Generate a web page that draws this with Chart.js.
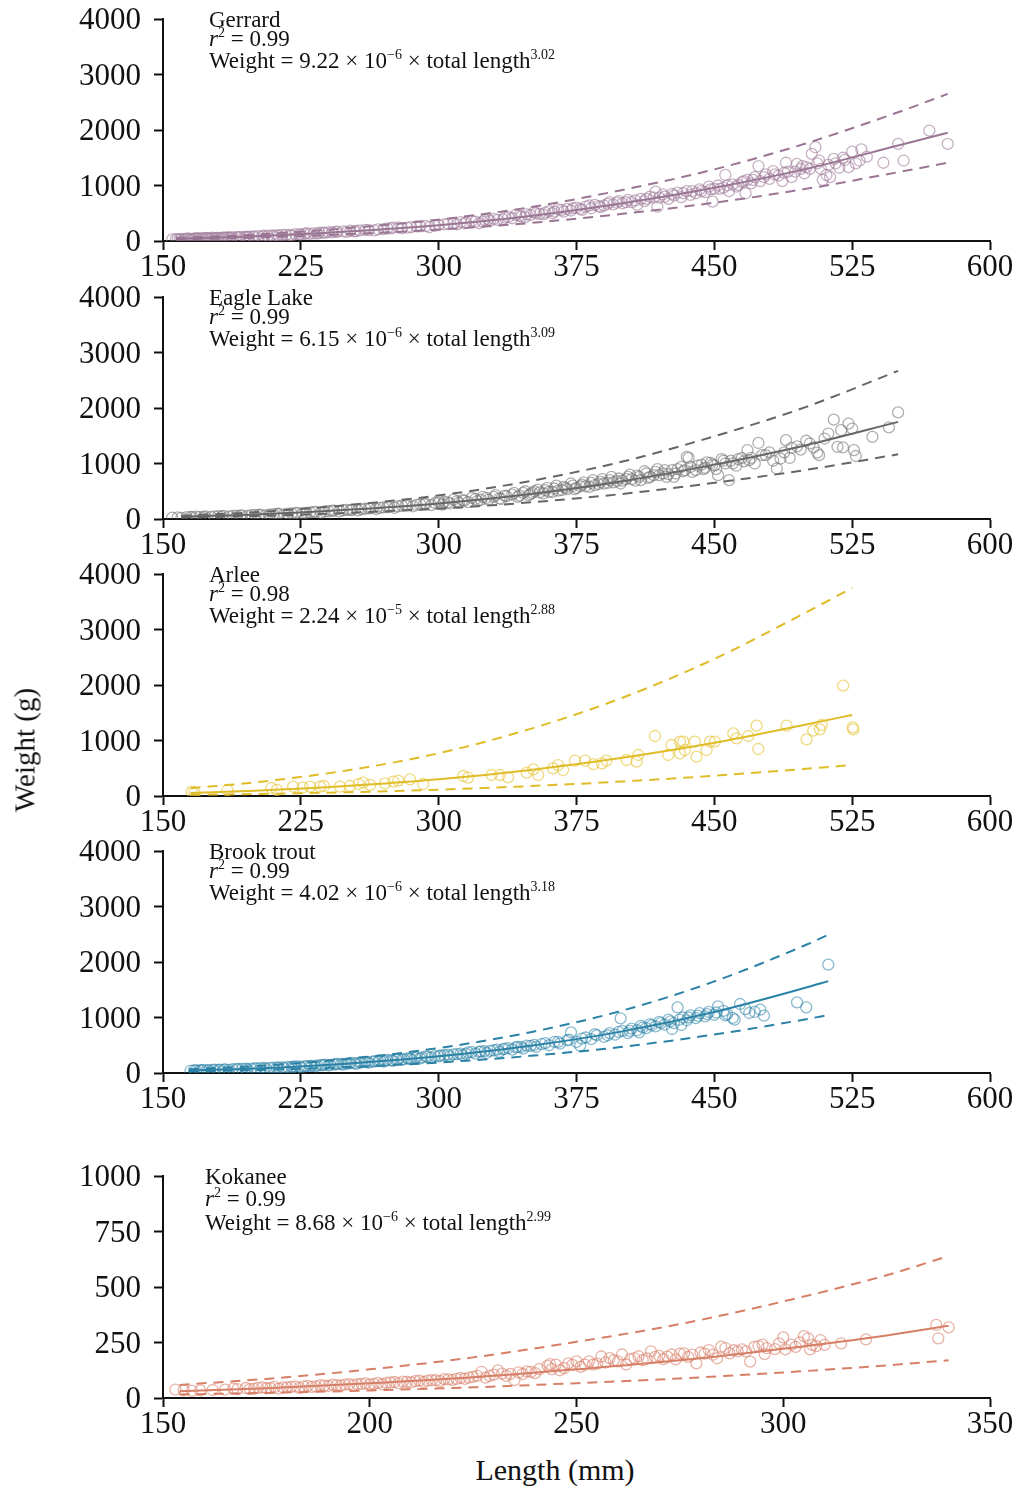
<!DOCTYPE html>
<html>
<head>
<meta charset="utf-8">
<script src="https://cdn.jsdelivr.net/npm/chart.js@4.4.0/dist/chart.umd.min.js"></script>
<style>
  body { margin: 0; background: #fff; width: 1017px; height: 1488px; position: relative; overflow: hidden;
         font-family: 'Liberation Serif', 'Times New Roman', serif; }
  canvas { position: absolute; left: 0; }
  .note { position: absolute; font-size: 23px; line-height: 19px; color: #111; white-space: nowrap; }
  .note.loose { line-height: 21.5px; }
  .note sup { font-size: 14px; vertical-align: 0; position: relative; top: -9px; }
  .axis-title { position: absolute; font-size: 29px; color: #111; white-space: nowrap; }
</style>
</head>
<body>

<script>
// lengths (mm) and weights (g)

// Gerrard
const gerrardPts = [[155,30],[157,35],[159,25],[160,40],[162,38],[164,45],[165,30],[167,42],[168,50],[170,45],[172,48],[173,55],[175,52],[177,60],[178,50],[180,58],[182,62],[184,55],[185,68],[187,65],[190,70],[192,75],[195,72],[197,80],[200,85],[205,95],[210,90],[212,105],[215,110],[220,100],[222,125],[225,120],[228,140],[230,130],[235,150],[238,145],[240,160],[245,170],[250,165],[252,185],[255,180],[260,200],[265,190],[270,215],[272,225],[275,240],[280,230],[285,250],[290,265],[295,250],[300,290],[305,310],[310,300],[312,340],[315,335],[320,350],[322,320],[325,380],[328,360],[330,400],[335,390],[338,430],[340,410],[342,470],[345,440],[348,480],[350,470],[352,520],[355,490],[358,510],[360,540],[362,500],[365,570],[368,530],[370,580],[372,550],[375,600],[378,560],[380,620],[383,590],[385,650],[388,610],[390,640],[393,700],[395,660],[398,720],[400,680],[403,740],[405,700],[408,650],[410,760],[412,720],[415,800],[418,890],[419,620],[420,780],[422,840],[425,760],[428,820],[430,870],[432,790],[435,900],[437,830],[440,860],[442,930],[445,880],[447,980],[449,710],[450,940],[452,1000],[455,960],[456,1190],[458,900],[460,1020],[462,980],[465,1060],[467,860],[468,1100],[470,1040],[472,1150],[474,1350],[475,1080],[478,1200],[480,1120],[482,1260],[485,1180],[487,1080],[489,1410],[490,1250],[492,1150],[495,1390],[497,1300],[499,1220],[500,1330],[503,1570],[505,1690],[506,1400],[508,1300],[509,1100],[511,1190],[513,1150],[515,1480],[518,1320],[520,1500],[523,1330],[525,1610],[527,1400],[530,1650],[533,1520],[542,1410],[550,1750],[553,1450],[567,1990],[577,1750],
  [158,32],[161,30],[163,42],[166,38],[169,48],[171,44],[174,50],[176,46],[179,55],[181,52],[183,60],[186,58],[188,66],[191,64],[194,70],[196,76],[199,80],[202,88],[204,84],[207,92],[209,100],[213,98],[217,112],[219,108],[224,118],[227,130],[232,138],[234,132],[237,150],[242,156],[244,165],[248,172],[254,175],[257,192],[262,195],[267,210],[274,228],[278,245],[283,240],[288,262],[293,270],[298,275],[303,300],[308,320],[314,320],[318,360],[324,350],[327,390],[332,380],[336,420],[344,455],[347,430],[353,500],[357,480],[363,530],[367,560],[373,590],[377,580],[382,640],[387,630],[392,670],[397,690],[402,700],[407,730],[413,760],[417,780],[423,800],[427,850],[433,860],[438,900],[443,900],[448,930],[453,940],[457,1000],[463,1010],[466,1080],[471,1100],[477,1150],[483,1200],[488,1230],[494,1250],[498,1350],[502,1300],[507,1450],[512,1370],[516,1400],[521,1460],[529,1450]];
const gerrardCurveLen = [157, 200, 250, 300, 350, 400, 450, 500, 550, 577];
const gerrardFit   = [40, 85, 170, 285, 450, 680, 960, 1300, 1720, 1950];
const gerrardUpper = [55, 115, 230, 385, 610, 920, 1290, 1760, 2320, 2650];
const gerrardLower = [29, 61, 122, 205, 325, 490, 690, 940, 1240, 1410];

// Eagle Lake
const eaglePts = [[155,25],[158,30],[160,22],[163,35],[166,32],[170,40],[173,45],[176,38],[180,50],[183,55],[186,48],[190,60],[193,65],[196,58],[200,75],[203,80],[206,70],[210,88],[213,95],[216,85],[220,100],[223,110],[226,105],[230,120],[233,130],[236,115],[240,140],[243,150],[246,135],[250,165],[253,170],[256,155],[260,185],[263,195],[266,180],[270,210],[273,220],[276,200],[280,240],[283,250],[286,230],[290,265],[293,275],[296,250],[300,290],[303,310],[306,280],[310,320],[313,340],[316,305],[320,360],[323,345],[326,380],[330,400],[333,370],[336,420],[340,440],[343,400],[346,470],[350,450],[352,500],[355,480],[358,520],[360,490],[363,550],[365,510],[368,580],[370,540],[373,600],[375,560],[378,620],[380,590],[383,650],[385,610],[388,670],[390,640],[393,700],[395,660],[398,730],[400,690],[403,760],[405,720],[408,780],[410,700],[413,820],[415,760],[418,850],[420,790],[423,880],[425,810],[428,760],[430,900],[433,860],[435,1120],[437,940],[440,880],[443,980],[445,920],[448,1010],[450,960],[452,790],[455,1050],[458,700],[460,1000],[463,1080],[466,1040],[468,1240],[470,1100],[474,1370],[476,1150],[480,1200],[484,910],[486,1090],[489,1420],[492,1280],[495,1310],[500,1410],[502,1360],[504,1290],[506,1195],[507,1150],[510,1450],[512,1540],[515,1790],[517,1300],[519,1600],[520,1290],[523,1720],[525,1630],[526,1240],[527,1135],[536,1480],[545,1650],[550,1920],
  [165,38],[168,42],[172,35],[178,48],[182,45],[188,55],[192,62],[198,70],[202,72],[208,80],[212,90],[218,95],[222,105],[228,112],[232,125],[238,135],[242,145],[248,155],[252,160],[258,175],[262,190],[268,200],[272,215],[278,230],[282,245],[288,255],[292,270],[298,285],
  [300,330],[302,260],[305,300],[308,350],[311,290],[314,330],[318,380],[321,320],[324,400],[327,350],[331,430],[334,360],[337,410],[341,470],[344,420],[347,500],[349,430],[351,470],[354,530],[357,460],[359,560],[362,490],[364,600],[367,520],[369,560],[372,640],[374,540],[377,590],[379,660],[382,580],[384,700],[387,630],[389,720],[392,650],[394,760],[397,680],[399,640],[402,720],[404,800],[407,690],[409,760],[412,860],[414,740],[417,790],[419,900],[422,820],[424,760],[427,880],[429,820],[432,940],[434,880],[436,1100],[438,850],[441,960],[444,900],[446,1020],[449,980],[451,900],[454,1080],[456,1000],[459,1050],[462,960],[465,1100],[469,1060],[472,1000],[478,1150],[482,1050],[488,1200],[491,1100],[497,1250]];
const eagleCurveLen = [160, 200, 250, 300, 350, 400, 450, 500, 550];
const eagleFit   = [40, 80, 165, 280, 450, 680, 980, 1330, 1750];
const eagleUpper = [60, 122, 250, 425, 685, 1035, 1490, 2020, 2670];
const eagleLower = [27, 53, 110, 186, 300, 452, 652, 885, 1165];

// Arlee
const arleePts = [[165.6,78],[167,70],[185,108],[209,144],[212,110],[220.8,168],[226,150],[230,170],[235.5,168],[237.6,180],[246.3,168],[251.8,180],[256.4,216],[259,240],[262.7,200],[270.8,228],[275.4,258],[278,276],[284.4,300],[291.6,216],[313.4,360],[316,330],[328.8,378],[333.3,378],[337.8,336],[347.9,420],[351.5,480],[354.2,378],[362.2,498],[365,558],[367.7,468],[374.2,636],[379.7,636],[384.2,576],[388.8,588],[391.3,637],[402.3,649],[407.7,619],[408.6,739],[417.7,1081],[424.9,739],[426.7,919],[431.3,979],[431.3,769],[433.1,979],[434,829],[439.4,979],[440.3,709],[445.8,829],[447.6,979],[450.3,979],[460.3,1129],[462.1,1039],[468.5,1081],[473,1267],[473.9,847],[489.3,1267],[500.2,1021],[503.8,1177],[507.4,1201],[508.4,1279],[520.1,1988],[525.3,1237],[525.6,1200]];
const arleeCurveLen = [165, 200, 250, 300, 350, 400, 450, 500, 525];
const arleeFit   = [55, 95, 180, 300, 470, 690, 960, 1290, 1460];
const arleeUpper = [140, 245, 460, 770, 1210, 1770, 2470, 3310, 3750];
const arleeLower = [21, 36, 68, 114, 179, 262, 365, 490, 558];

// Brook trout
const brookPts = [[165,40],[167,50],[170,45],[172,55],[175,48],[178,60],[180,55],[183,62],[186,58],[190,70],[193,75],[196,68],[200,82],[203,88],[206,80],[210,95],[213,100],[216,92],[220,110],[222,118],[225,105],[228,125],[230,130],[233,120],[236,140],[238,150],[240,135],[243,155],[245,165],[248,150],[250,170],[252,180],[255,165],[258,190],[260,200],[262,185],[265,210],[268,225],[270,205],[272,235],[275,220],[278,250],[280,240],[283,265],[285,250],[288,280],[290,265],[293,300],[296,280],[300,300],[303,320],[306,300],[310,340],[313,320],[316,370],[320,350],[323,390],[326,360],[330,410],[333,380],[336,440],[340,420],[343,470],[346,440],[350,490],[353,470],[356,520],[360,500],[363,560],[366,530],[370,590],[372,733],[375,560],[377,492],[380,640],[383,610],[386,680],[390,650],[393,720],[396,690],[399,985],[400,760],[403,720],[405,800],[408,770],[409,733],[410,850],[413,810],[415,880],[418,840],[420,920],[423,870],[425,960],[427,793],[428,900],[430,1183],[432,865],[433,1000],[435,950],[437,1040],[440,990],[442,1080],[445,1020],[447,1100],[450,1050],[452,1200],[455,1120],[457,1060],[460,993],[461,963],[464,1243],[467,1150],[469,1081],[472,1100],[475,1141],[477,1033],[495,1273],[500,1183],[512,1952],
  [168,45],[171,50],[174,52],[177,55],[181,60],[184,65],[188,68],[191,72],[195,78],[198,80],[201,85],[205,90],[208,92],[212,98],[215,102],[218,108],[221,112],[224,118],[227,120],[231,128],[234,135],[237,142],[241,148],[244,158],[247,162],[251,172],[254,178],[257,185],[261,195],[264,205],[267,212],[271,220],[274,230],[277,240],[281,250],[284,258],[287,268],[291,280],[294,290],[298,305],[301,315],[305,330],[308,335],[312,350],[315,345],[318,375],[322,380],[325,395],[328,400],[332,420],[335,425],[338,450],[342,460],[345,470],[348,495],[352,505],[358,540],[365,560],[371,600],[378,620],[385,700],[392,680],[398,740],[404,760],[411,820],[416,860],[421,900],[426,930],[431,960],[436,1000],[441,1030],[446,1060],[451,1090],[456,1040]];
const brookCurveLen = [164, 200, 250, 300, 350, 400, 450, 500, 512];
const brookFit   = [45, 82, 168, 300, 490, 750, 1100, 1540, 1655];
const brookUpper = [68, 123, 252, 450, 735, 1125, 1650, 2310, 2490];
const brookLower = [28, 52, 106, 189, 309, 472, 693, 970, 1045];

// Kokanee
const kokaneePts = [[153,38],[155,35],[157,32],[168,40],[170,45],[172,42],[174,48],[175,44],[177,50],[178,42],[180,48],[182,52],[183,46],[185,55],[186,50],[188,58],[190,54],[191,60],[193,56],[195,62],[196,58],[198,64],[200,60],[202,68],[203,62],[205,70],[207,66],[208,74],[210,70],[212,78],[213,72],[215,80],[217,76],[218,85],[220,82],[222,90],[223,86],[225,95],[226,100],[227,118],[228,92],[230,105],[231,124],[232,110],[233,100],[235,81],[236,115],[237,108],[238,120],[240,112],[241,130],[243,145],[243.6,153],[245,150],[246,125],[248,156],[249,149],[250,165],[251,140],[253,165],[254,150],[256,187],[257,160],[258,180],[259,170],[261,196],[262,151],[263,175],[265,188],[266,170],[268,210],[269,185],[271,175],[273,196],[274,174],[275,200],[276,201],[277,185],[279,156],[280,205],[282,216],[283,195],[284,179],[285,231],[286,225],[287,201],[289,210],[290,219],[292,164],[293,230],[294,234],[295,240],[295.5,198],[298,220],[299,246],[300,273],[300.5,219],[303,230],[305,279],[306,269],[306.5,219],[307,239],[308,234],[309,261],[310,239],[314,246],[320,264],[337,329],[337.5,269],[340,318],
  [159,34],[162,36],[165,38],[167,42],[171,40],[173,46],[176,45],[179,48],[181,50],[184,52],[187,52],[189,56],[192,58],[194,60],[197,62],[199,66],[201,64],[204,68],[206,72],[209,72],[211,76],[214,78],[216,80],[219,84],[221,86],[224,92],[229,100],[234,108],[239,118],[244,130],[247,135],[252,150],[255,155],[260,165],[264,180],[267,178],[270,190],[272,186],[278,195],[281,200],[288,215],[291,210],[296,225],[302,240],[304,250]];
const kokaneeCurveLen = [154, 175, 200, 225, 250, 275, 300, 325, 340];
const kokaneeFit   = [30, 44, 66, 93, 129, 170, 222, 282, 325];
const kokaneeUpper = [59, 86, 129, 183, 253, 333, 435, 553, 640];
const kokaneeLower = [16, 23, 34, 48, 67, 88, 115, 147, 170];

const FONT = "'Liberation Serif', 'Times New Roman', serif";

const panels = [
  { pts: gerrardPts, len: gerrardCurveLen, fit: gerrardFit, up: gerrardUpper, lo: gerrardLower,
    line: '#9a7594', pt: 'rgba(160,125,155,0.6)', top: 0, xmax: 600, xstep: 75, ymax: 4000, ystep: 1000 },
  { pts: eaglePts, len: eagleCurveLen, fit: eagleFit, up: eagleUpper, lo: eagleLower,
    line: '#666666', pt: 'rgba(110,110,110,0.55)', top: 278, xmax: 600, xstep: 75, ymax: 4000, ystep: 1000 },
  { pts: arleePts, len: arleeCurveLen, fit: arleeFit, up: arleeUpper, lo: arleeLower,
    line: '#dfbc28', pt: 'rgba(230,196,60,0.65)', top: 555, xmax: 600, xstep: 75, ymax: 4000, ystep: 1000 },
  { pts: brookPts, len: brookCurveLen, fit: brookFit, up: brookUpper, lo: brookLower,
    line: '#2a82a6', pt: 'rgba(42,130,166,0.55)', top: 832, xmax: 600, xstep: 75, ymax: 4000, ystep: 1000 },
  { pts: kokaneePts, len: kokaneeCurveLen, fit: kokaneeFit, up: kokaneeUpper, lo: kokaneeLower,
    line: '#d67f66', pt: 'rgba(216,128,106,0.6)', top: 1157, xmax: 350, xstep: 50, ymax: 1000, ystep: 250 }
];

function curve(len, vals) {
  return len.map((x, i) => ({ x, y: vals[i] }));
}

function lineSet(data, color, dashed) {
  return { data, showLine: true, borderColor: color, borderWidth: 2, pointRadius: 0,
           borderDash: dashed ? [10, 7] : [], cubicInterpolationMode: 'monotone', order: 0 };
}

function axisOpts(extra) {
  return {
    type: 'linear',
    min: extra.min, max: extra.max,
    ticks: { color: '#111', font: { family: FONT, size: 31 }, autoSkip: false, maxRotation: 0,
             callback: v => String(v), ...extra.ticks },
    grid: { drawOnChartArea: false, drawTicks: true, tickLength: 9, tickColor: '#111', tickWidth: 2 },
    border: { color: '#111', width: 2 },
    afterFit: extra.afterFit
  };
}

panels.forEach(p => {
  const cv = document.createElement('canvas');
  cv.width = 1017; cv.height = 291;
  cv.style.top = p.top + 'px';
  document.body.appendChild(cv);
  new Chart(cv, {
    type: 'scatter',
    data: {
      datasets: [
        lineSet(curve(p.len, p.fit), p.line, false),
        lineSet(curve(p.len, p.up), p.line, true),
        lineSet(curve(p.len, p.lo), p.line, true),
        { data: p.pts.map(([x, y]) => ({ x, y })), pointRadius: 5.5, pointBorderWidth: 1.3,
          pointBackgroundColor: 'rgba(0,0,0,0)', pointBorderColor: p.pt, order: 1 }
      ]
    },
    options: {
      responsive: false, animation: false, devicePixelRatio: 1,
      layout: { padding: { top: 19, right: 27, left: 0, bottom: 0 } },
      plugins: { legend: { display: false }, tooltip: { enabled: false } },
      scales: {
        x: axisOpts({ min: 150, max: p.xmax, ticks: { stepSize: p.xstep, padding: -1 },
                      afterFit: s => { s.height = 50; s.paddingLeft = 0; s.paddingRight = 0; } }),
        y: axisOpts({ min: 0, max: p.ymax, ticks: { stepSize: p.ystep, padding: 13, labelOffset: 2 },
                      afterFit: s => { s.width = 163; s.paddingTop = 0; s.paddingBottom = 0; } })
      }
    }
  });
});
</script>

<div class="note" style="left:209px; top:10px;">Gerrard<br><i>r</i><sup>2</sup> = 0.99<br>Weight = 9.22 × 10<sup>−6</sup> × total length<sup>3.02</sup></div>
<div class="note" style="left:209px; top:288px;">Eagle Lake<br><i>r</i><sup>2</sup> = 0.99<br>Weight = 6.15 × 10<sup>−6</sup> × total length<sup>3.09</sup></div>
<div class="note" style="left:209px; top:565px;">Arlee<br><i>r</i><sup>2</sup> = 0.98<br>Weight = 2.24 × 10<sup>−5</sup> × total length<sup>2.88</sup></div>
<div class="note" style="left:209px; top:842px;">Brook trout<br><i>r</i><sup>2</sup> = 0.99<br>Weight = 4.02 × 10<sup>−6</sup> × total length<sup>3.18</sup></div>
<div class="note loose" style="left:205px; top:1166px;">Kokanee<br><i>r</i><sup>2</sup> = 0.99<br>Weight = 8.68 × 10<sup>−6</sup> × total length<sup>2.99</sup></div>

<div class="axis-title" style="left:25px; top:750px; transform: translate(-50%,-50%) rotate(-90deg);">Weight (g)</div>
<div class="axis-title" style="left:555px; top:1470px; transform: translate(-50%,-50%); font-size:30px;">Length (mm)</div>

</body>
</html>
